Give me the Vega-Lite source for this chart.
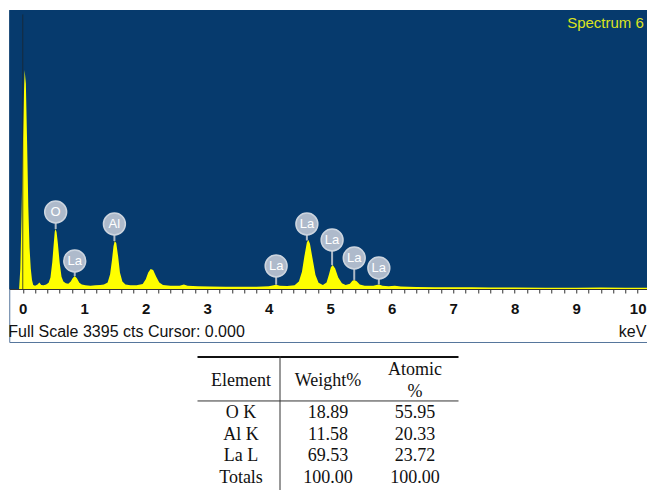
{
  "$schema": "https://vega.github.io/schema/vega-lite/v6.json",
  "padding": {"left": 7, "top": 9, "right": 2, "bottom": 0},
  "background": "#ffffff",
  "spacing": 12,
  "center": true,
  "datasets": {
    "spectrum": [
      {"keV": -0.06, "cts": 0}, {"keV": -0.04, "cts": 250}, {"keV": -0.02, "cts": 900}, {"keV": 0.0, "cts": 1700},
      {"keV": 0.02, "cts": 2400}, {"keV": 0.03, "cts": 2665}, {"keV": 0.05, "cts": 2500}, {"keV": 0.07, "cts": 1800},
      {"keV": 0.09, "cts": 1000}, {"keV": 0.11, "cts": 500}, {"keV": 0.13, "cts": 250}, {"keV": 0.15, "cts": 110},
      {"keV": 0.17, "cts": 50}, {"keV": 0.2, "cts": 40}, {"keV": 0.24, "cts": 55}, {"keV": 0.27, "cts": 80},
      {"keV": 0.3, "cts": 50}, {"keV": 0.34, "cts": 45}, {"keV": 0.38, "cts": 55}, {"keV": 0.42, "cts": 75},
      {"keV": 0.45, "cts": 140}, {"keV": 0.48, "cts": 330}, {"keV": 0.5, "cts": 520}, {"keV": 0.52, "cts": 700},
      {"keV": 0.535, "cts": 730}, {"keV": 0.55, "cts": 690}, {"keV": 0.57, "cts": 560}, {"keV": 0.6, "cts": 320},
      {"keV": 0.63, "cts": 150}, {"keV": 0.66, "cts": 90}, {"keV": 0.7, "cts": 70}, {"keV": 0.74, "cts": 65},
      {"keV": 0.78, "cts": 90}, {"keV": 0.81, "cts": 130}, {"keV": 0.845, "cts": 158}, {"keV": 0.88, "cts": 130},
      {"keV": 0.92, "cts": 75}, {"keV": 0.96, "cts": 55}, {"keV": 1.02, "cts": 45}, {"keV": 1.1, "cts": 40},
      {"keV": 1.18, "cts": 45}, {"keV": 1.26, "cts": 50}, {"keV": 1.32, "cts": 55}, {"keV": 1.38, "cts": 80},
      {"keV": 1.42, "cts": 180}, {"keV": 1.45, "cts": 350}, {"keV": 1.475, "cts": 520}, {"keV": 1.495, "cts": 584},
      {"keV": 1.52, "cts": 560}, {"keV": 1.55, "cts": 400}, {"keV": 1.58, "cts": 200}, {"keV": 1.62, "cts": 90},
      {"keV": 1.67, "cts": 55}, {"keV": 1.75, "cts": 45}, {"keV": 1.85, "cts": 45}, {"keV": 1.95, "cts": 60},
      {"keV": 2.0, "cts": 120}, {"keV": 2.04, "cts": 200}, {"keV": 2.08, "cts": 243}, {"keV": 2.12, "cts": 230},
      {"keV": 2.17, "cts": 150}, {"keV": 2.22, "cts": 80}, {"keV": 2.28, "cts": 50}, {"keV": 2.4, "cts": 40},
      {"keV": 2.55, "cts": 38}, {"keV": 2.62, "cts": 55}, {"keV": 2.68, "cts": 38}, {"keV": 2.85, "cts": 32},
      {"keV": 3.05, "cts": 30}, {"keV": 3.3, "cts": 28}, {"keV": 3.55, "cts": 26}, {"keV": 3.8, "cts": 28},
      {"keV": 4.0, "cts": 32}, {"keV": 4.08, "cts": 45}, {"keV": 4.12, "cts": 52}, {"keV": 4.18, "cts": 40},
      {"keV": 4.3, "cts": 35}, {"keV": 4.42, "cts": 45}, {"keV": 4.49, "cts": 90}, {"keV": 4.54, "cts": 210},
      {"keV": 4.58, "cts": 400}, {"keV": 4.62, "cts": 570}, {"keV": 4.645, "cts": 596}, {"keV": 4.67, "cts": 550},
      {"keV": 4.71, "cts": 380}, {"keV": 4.76, "cts": 170}, {"keV": 4.81, "cts": 75}, {"keV": 4.88, "cts": 50},
      {"keV": 4.94, "cts": 80}, {"keV": 4.98, "cts": 180}, {"keV": 5.01, "cts": 265}, {"keV": 5.04, "cts": 292},
      {"keV": 5.08, "cts": 250}, {"keV": 5.13, "cts": 140}, {"keV": 5.19, "cts": 70}, {"keV": 5.25, "cts": 50},
      {"keV": 5.32, "cts": 65}, {"keV": 5.36, "cts": 100}, {"keV": 5.39, "cts": 110}, {"keV": 5.43, "cts": 95},
      {"keV": 5.48, "cts": 55}, {"keV": 5.56, "cts": 38}, {"keV": 5.7, "cts": 38}, {"keV": 5.75, "cts": 48},
      {"keV": 5.79, "cts": 55}, {"keV": 5.85, "cts": 40}, {"keV": 5.95, "cts": 32}, {"keV": 6.05, "cts": 40},
      {"keV": 6.15, "cts": 30}, {"keV": 6.4, "cts": 25}, {"keV": 6.7, "cts": 22}, {"keV": 7.0, "cts": 20},
      {"keV": 7.3, "cts": 22}, {"keV": 7.6, "cts": 18}, {"keV": 8.0, "cts": 18}, {"keV": 8.5, "cts": 16},
      {"keV": 9.0, "cts": 16}, {"keV": 9.4, "cts": 18}, {"keV": 9.8, "cts": 15}, {"keV": 10.155, "cts": 15}
    ],
    "labels": [
      {"el": "O", "keV": 0.535, "peak": 730, "lab": 937},
      {"el": "La", "keV": 0.845, "peak": 158, "lab": 341},
      {"el": "Al", "keV": 1.49, "peak": 584, "lab": 791},
      {"el": "La", "keV": 4.12, "peak": 52, "lab": 280},
      {"el": "La", "keV": 4.62, "peak": 590, "lab": 791},
      {"el": "La", "keV": 5.03, "peak": 290, "lab": 596},
      {"el": "La", "keV": 5.39, "peak": 110, "lab": 377},
      {"el": "La", "keV": 5.79, "peak": 55, "lab": 256}
    ],
    "cells": [
      {"row": 1, "col": "Element", "text": "O K"},
      {"row": 1, "col": "Weight%", "text": "18.89"},
      {"row": 1, "col": "Atomic %", "text": "55.95"},
      {"row": 2, "col": "Element", "text": "Al K"},
      {"row": 2, "col": "Weight%", "text": "11.58"},
      {"row": 2, "col": "Atomic %", "text": "20.33"},
      {"row": 3, "col": "Element", "text": "La L"},
      {"row": 3, "col": "Weight%", "text": "69.53"},
      {"row": 3, "col": "Atomic %", "text": "23.72"},
      {"row": 4, "col": "Element", "text": "Totals"},
      {"row": 4, "col": "Weight%", "text": "100.00"},
      {"row": 4, "col": "Atomic %", "text": "100.00"}
    ],
    "headers": [
      {"col": "Element", "text": "Element"},
      {"col": "Weight%", "text": "Weight%"}
    ],
    "header2": [
      {"col": "Atomic %", "text": "Atomic\n%"}
    ]
  },
  "vconcat": [
    {
      "width": 638,
      "height": 332,
      "view": {"stroke": "#56769c", "strokeWidth": 1},
      "layer": [
        {
          "data": {"values": [{}]},
          "mark": {"type": "rect", "color": "#063a6d"},
          "encoding": {
            "x": {"datum": -0.22, "type": "quantitative", "scale": {"domain": [-0.22, 10.155], "nice": false, "zero": false},
              "axis": {"orient": "bottom", "offset": -53, "title": null, "grid": false, "domainColor": "#333333", "tickColor": "#333333", "tickSize": 4, "values": [0,0.2,0.4,0.6,0.8,1,1.2,1.4,1.6,1.8,2,2.2,2.4,2.6,2.8,3,3.2,3.4,3.6,3.8,4,4.2,4.4,4.6,4.8,5,5.2,5.4,5.6,5.8,6,6.2,6.4,6.6,6.8,7,7.2,7.4,7.6,7.8,8,8.2,8.4,8.6,8.8,9,9.2,9.4,9.6,9.8,10], "labelExpr": "abs(datum.value - round(datum.value)) < 0.001 ? format(datum.value, 'd') : ''", "labelFont": "Liberation Sans", "labelFontWeight": "bold", "labelFontSize": 15, "labelColor": "#111111", "labelPadding": 8, "labelFlush": false, "labelOverlap": false}},
            "x2": {"datum": 10.155},
            "y": {"datum": 0, "type": "quantitative", "axis": null},
            "y2": {"datum": 3395}
          }
        },
        {
          "data": {"name": "spectrum"},
          "mark": {"type": "area", "color": "#ffff00", "interpolate": "linear"},
          "encoding": {
            "x": {"field": "keV", "type": "quantitative", "scale": {"domain": [-0.22, 10.155], "nice": false, "zero": false},
              "axis": {"orient": "bottom", "offset": -53, "title": null, "grid": false, "domainColor": "#333333", "tickColor": "#333333", "tickSize": 4, "values": [0,0.2,0.4,0.6,0.8,1,1.2,1.4,1.6,1.8,2,2.2,2.4,2.6,2.8,3,3.2,3.4,3.6,3.8,4,4.2,4.4,4.6,4.8,5,5.2,5.4,5.6,5.8,6,6.2,6.4,6.6,6.8,7,7.2,7.4,7.6,7.8,8,8.2,8.4,8.6,8.8,9,9.2,9.4,9.6,9.8,10], "labelExpr": "abs(datum.value - round(datum.value)) < 0.001 ? format(datum.value, 'd') : ''", "labelFont": "Liberation Sans", "labelFontWeight": "bold", "labelFontSize": 15, "labelColor": "#111111", "labelPadding": 8, "labelFlush": false, "labelOverlap": false}},
            "y": {"field": "cts", "type": "quantitative", "scale": {"domain": [-645, 3395], "nice": false, "zero": false}, "axis": null},
            "y2": {"datum": 0}
          }
        },
        {
          "data": {"values": [{}]},
          "mark": {"type": "rule", "color": "#1c2530", "strokeWidth": 1, "opacity": 0.8},
          "encoding": {
            "x": {"datum": 0, "type": "quantitative",
              "axis": {"orient": "bottom", "offset": -53, "title": null, "grid": false, "domainColor": "#333333", "tickColor": "#333333", "tickSize": 4, "values": [0,0.2,0.4,0.6,0.8,1,1.2,1.4,1.6,1.8,2,2.2,2.4,2.6,2.8,3,3.2,3.4,3.6,3.8,4,4.2,4.4,4.6,4.8,5,5.2,5.4,5.6,5.8,6,6.2,6.4,6.6,6.8,7,7.2,7.4,7.6,7.8,8,8.2,8.4,8.6,8.8,9,9.2,9.4,9.6,9.8,10], "labelExpr": "abs(datum.value - round(datum.value)) < 0.001 ? format(datum.value, 'd') : ''", "labelFont": "Liberation Sans", "labelFontWeight": "bold", "labelFontSize": 15, "labelColor": "#111111", "labelPadding": 8, "labelFlush": false, "labelOverlap": false}},
            "y": {"datum": 0, "type": "quantitative", "axis": null},
            "y2": {"datum": 3340}
          }
        },
        {
          "data": {"name": "labels"},
          "mark": {"type": "rule", "color": "#aeb9c6", "strokeWidth": 2},
          "encoding": {
            "x": {"field": "keV", "type": "quantitative",
              "axis": {"orient": "bottom", "offset": -53, "title": null, "grid": false, "domainColor": "#333333", "tickColor": "#333333", "tickSize": 4, "values": [0,0.2,0.4,0.6,0.8,1,1.2,1.4,1.6,1.8,2,2.2,2.4,2.6,2.8,3,3.2,3.4,3.6,3.8,4,4.2,4.4,4.6,4.8,5,5.2,5.4,5.6,5.8,6,6.2,6.4,6.6,6.8,7,7.2,7.4,7.6,7.8,8,8.2,8.4,8.6,8.8,9,9.2,9.4,9.6,9.8,10], "labelExpr": "abs(datum.value - round(datum.value)) < 0.001 ? format(datum.value, 'd') : ''", "labelFont": "Liberation Sans", "labelFontWeight": "bold", "labelFontSize": 15, "labelColor": "#111111", "labelPadding": 8, "labelFlush": false, "labelOverlap": false}},
            "y": {"field": "peak", "type": "quantitative", "axis": null},
            "y2": {"field": "lab"}
          }
        },
        {
          "data": {"name": "labels"},
          "mark": {"type": "point", "shape": "circle", "filled": true, "size": 480, "fill": "#aebacb", "stroke": "#cdd5df", "strokeWidth": 1.5, "opacity": 1},
          "encoding": {
            "x": {"field": "keV", "type": "quantitative",
              "axis": {"orient": "bottom", "offset": -53, "title": null, "grid": false, "domainColor": "#333333", "tickColor": "#333333", "tickSize": 4, "values": [0,0.2,0.4,0.6,0.8,1,1.2,1.4,1.6,1.8,2,2.2,2.4,2.6,2.8,3,3.2,3.4,3.6,3.8,4,4.2,4.4,4.6,4.8,5,5.2,5.4,5.6,5.8,6,6.2,6.4,6.6,6.8,7,7.2,7.4,7.6,7.8,8,8.2,8.4,8.6,8.8,9,9.2,9.4,9.6,9.8,10], "labelExpr": "abs(datum.value - round(datum.value)) < 0.001 ? format(datum.value, 'd') : ''", "labelFont": "Liberation Sans", "labelFontWeight": "bold", "labelFontSize": 15, "labelColor": "#111111", "labelPadding": 8, "labelFlush": false, "labelOverlap": false}},
            "y": {"field": "lab", "type": "quantitative", "axis": null}
          }
        },
        {
          "data": {"name": "labels"},
          "mark": {"type": "text", "color": "#ffffff", "font": "Liberation Sans", "fontSize": 13, "baseline": "middle", "align": "center"},
          "encoding": {
            "x": {"field": "keV", "type": "quantitative",
              "axis": {"orient": "bottom", "offset": -53, "title": null, "grid": false, "domainColor": "#333333", "tickColor": "#333333", "tickSize": 4, "values": [0,0.2,0.4,0.6,0.8,1,1.2,1.4,1.6,1.8,2,2.2,2.4,2.6,2.8,3,3.2,3.4,3.6,3.8,4,4.2,4.4,4.6,4.8,5,5.2,5.4,5.6,5.8,6,6.2,6.4,6.6,6.8,7,7.2,7.4,7.6,7.8,8,8.2,8.4,8.6,8.8,9,9.2,9.4,9.6,9.8,10], "labelExpr": "abs(datum.value - round(datum.value)) < 0.001 ? format(datum.value, 'd') : ''", "labelFont": "Liberation Sans", "labelFontWeight": "bold", "labelFontSize": 15, "labelColor": "#111111", "labelPadding": 8, "labelFlush": false, "labelOverlap": false}},
            "y": {"field": "lab", "type": "quantitative", "axis": null},
            "text": {"field": "el"}
          }
        },
        {
          "data": {"values": [{"t": "Spectrum 6"}]},
          "mark": {"type": "text", "color": "#dde21e", "font": "Liberation Sans", "fontSize": 15, "align": "right", "baseline": "middle"},
          "encoding": {
            "x": {"datum": 10.1, "type": "quantitative",
              "axis": {"orient": "bottom", "offset": -53, "title": null, "grid": false, "domainColor": "#333333", "tickColor": "#333333", "tickSize": 4, "values": [0,0.2,0.4,0.6,0.8,1,1.2,1.4,1.6,1.8,2,2.2,2.4,2.6,2.8,3,3.2,3.4,3.6,3.8,4,4.2,4.4,4.6,4.8,5,5.2,5.4,5.6,5.8,6,6.2,6.4,6.6,6.8,7,7.2,7.4,7.6,7.8,8,8.2,8.4,8.6,8.8,9,9.2,9.4,9.6,9.8,10], "labelExpr": "abs(datum.value - round(datum.value)) < 0.001 ? format(datum.value, 'd') : ''", "labelFont": "Liberation Sans", "labelFontWeight": "bold", "labelFontSize": 15, "labelColor": "#111111", "labelPadding": 8, "labelFlush": false, "labelOverlap": false}},
            "y": {"datum": 3237, "type": "quantitative", "axis": null},
            "text": {"field": "t"}
          }
        },
        {
          "data": {"values": [{"t": "Full Scale 3395 cts Cursor: 0.000"}]},
          "mark": {"type": "text", "color": "#111111", "font": "Liberation Sans", "fontSize": 16, "align": "left", "baseline": "middle", "dx": -1},
          "encoding": {
            "x": {"datum": -0.22, "type": "quantitative",
              "axis": {"orient": "bottom", "offset": -53, "title": null, "grid": false, "domainColor": "#333333", "tickColor": "#333333", "tickSize": 4, "values": [0,0.2,0.4,0.6,0.8,1,1.2,1.4,1.6,1.8,2,2.2,2.4,2.6,2.8,3,3.2,3.4,3.6,3.8,4,4.2,4.4,4.6,4.8,5,5.2,5.4,5.6,5.8,6,6.2,6.4,6.6,6.8,7,7.2,7.4,7.6,7.8,8,8.2,8.4,8.6,8.8,9,9.2,9.4,9.6,9.8,10], "labelExpr": "abs(datum.value - round(datum.value)) < 0.001 ? format(datum.value, 'd') : ''", "labelFont": "Liberation Sans", "labelFontWeight": "bold", "labelFontSize": 15, "labelColor": "#111111", "labelPadding": 8, "labelFlush": false, "labelOverlap": false}},
            "y": {"datum": -523, "type": "quantitative", "axis": null},
            "text": {"field": "t"}
          }
        },
        {
          "data": {"values": [{"t": "keV"}]},
          "mark": {"type": "text", "color": "#111111", "font": "Liberation Sans", "fontSize": 16, "align": "right", "baseline": "middle"},
          "encoding": {
            "x": {"datum": 10.14, "type": "quantitative",
              "axis": {"orient": "bottom", "offset": -53, "title": null, "grid": false, "domainColor": "#333333", "tickColor": "#333333", "tickSize": 4, "values": [0,0.2,0.4,0.6,0.8,1,1.2,1.4,1.6,1.8,2,2.2,2.4,2.6,2.8,3,3.2,3.4,3.6,3.8,4,4.2,4.4,4.6,4.8,5,5.2,5.4,5.6,5.8,6,6.2,6.4,6.6,6.8,7,7.2,7.4,7.6,7.8,8,8.2,8.4,8.6,8.8,9,9.2,9.4,9.6,9.8,10], "labelExpr": "abs(datum.value - round(datum.value)) < 0.001 ? format(datum.value, 'd') : ''", "labelFont": "Liberation Sans", "labelFontWeight": "bold", "labelFontSize": 15, "labelColor": "#111111", "labelPadding": 8, "labelFlush": false, "labelOverlap": false}},
            "y": {"datum": -523, "type": "quantitative", "axis": null},
            "text": {"field": "t"}
          }
        }
      ]
    },
    {
      "width": 261,
      "height": 134,
      "view": {"stroke": null},
      "layer": [
        {
          "data": {"name": "cells"},
          "mark": {"type": "text", "font": "Liberation Serif", "fontSize": 18, "color": "#111111", "baseline": "middle", "align": "center"},
          "encoding": {
            "x": {"field": "col", "type": "nominal", "scale": {"type": "band", "domain": ["Element", "Weight%", "Atomic %"], "paddingInner": 0, "paddingOuter": 0}, "axis": null},
            "y": {"field": "row", "type": "quantitative", "scale": {"domain": [-1.65, 4.58], "nice": false, "zero": false, "reverse": true}, "axis": null},
            "text": {"field": "text"}
          }
        },
        {
          "data": {"name": "headers"},
          "mark": {"type": "text", "font": "Liberation Serif", "fontSize": 18, "color": "#111111", "baseline": "middle", "align": "center"},
          "encoding": {
            "x": {"field": "col", "type": "nominal", "axis": null},
            "y": {"datum": -0.465, "type": "quantitative", "axis": null},
            "text": {"field": "text"}
          }
        },
        {
          "data": {"name": "header2"},
          "mark": {"type": "text", "font": "Liberation Serif", "fontSize": 18, "color": "#111111", "baseline": "middle", "align": "center", "lineBreak": "\n", "lineHeight": 22.5},
          "encoding": {
            "x": {"field": "col", "type": "nominal", "axis": null},
            "y": {"datum": -1.0, "type": "quantitative", "axis": null},
            "text": {"field": "text"}
          }
        },
        {
          "data": {"values": [{}]},
          "mark": {"type": "rule", "color": "#111111", "strokeWidth": 2},
          "encoding": {"y": {"datum": -1.6, "type": "quantitative", "axis": null}}
        },
        {
          "data": {"values": [{}]},
          "mark": {"type": "rule", "color": "#333333", "strokeWidth": 1},
          "encoding": {"y": {"datum": 0.44, "type": "quantitative", "axis": null}}
        },
        {
          "data": {"values": [{}]},
          "mark": {"type": "rule", "color": "#333333", "strokeWidth": 1, "xOffset": -48},
          "encoding": {"x": {"datum": "Weight%", "type": "nominal", "axis": null}}
        }
      ]
    }
  ]
}
